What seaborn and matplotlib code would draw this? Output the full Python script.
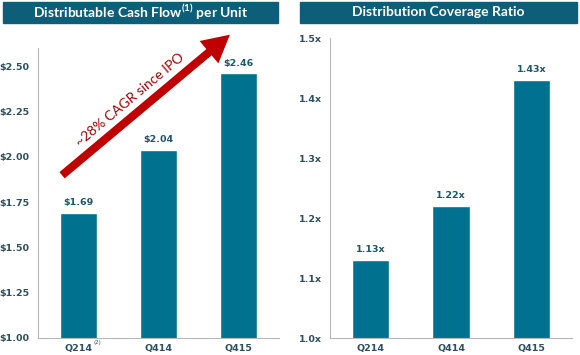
import matplotlib
matplotlib.use("Agg")
import matplotlib.pyplot as plt
import seaborn as sns
import pandas as pd
from matplotlib.patches import Rectangle

# ---- data ----
quarters = ["Q214", "Q414", "Q415"]
dcf_per_unit = [1.69, 2.04, 2.46]
coverage = [1.13, 1.22, 1.43]
dcf_ticks = [1.00, 1.25, 1.50, 1.75, 2.00, 2.25, 2.50]
cov_ticks = [1.0, 1.1, 1.2, 1.3, 1.4, 1.5]
left_title = "Distributable Cash Flow$^{(1)}$ per Unit"
right_title = "Distribution Coverage Ratio"
cagr_text = "~28% CAGR since IPO"
footnote_mark = "(2)"

BAR = "#00718F"
BANNER = "#0D5E79"
TICK = "#2E4F5E"
LBL = "#1F5668"
SPINE = "#B8B8B8"

sns.set_style("white")
plt.rcParams["font.family"] = ["Lato", "DejaVu Sans"]
plt.rcParams["mathtext.fontset"] = "custom"
plt.rcParams["mathtext.rm"] = "Lato:bold"
plt.rcParams["mathtext.bf"] = "Lato:bold"
TFONT = ["DejaVu Sans"]

fig = plt.figure(figsize=(5.8, 3.55), dpi=100)
ax1 = fig.add_axes([38/580, 1-338/355, 241/580, 290/355])
ax2 = fig.add_axes([330/580, 1-338/355, 242/580, 300/355])

df1 = pd.DataFrame({"q": quarters, "v": dcf_per_unit})
df2 = pd.DataFrame({"q": quarters, "v": coverage})
sns.barplot(data=df1, x="q", y="v", ax=ax1, color=BAR, width=0.46, saturation=1)
sns.barplot(data=df2, x="q", y="v", ax=ax2, color=BAR, width=0.46, saturation=1)

def style(ax, ticks, ylim, fmt):
    ax.set_ylim(*ylim)
    ax.set_xlim(-0.5, 2.5)
    ax.set_yticks(ticks)
    ax.set_yticklabels([fmt(t) for t in ticks])
    ax.set_xticks(range(len(quarters)))
    ax.set_xticklabels(quarters)
    ax.set_xlabel("")
    ax.set_ylabel("")
    for s in ["top", "right"]:
        ax.spines[s].set_visible(False)
    for s in ["left", "bottom"]:
        ax.spines[s].set_color(SPINE)
        ax.spines[s].set_linewidth(0.8)
    ax.tick_params(axis="both", length=3, width=0.8, color=SPINE, colors=TICK,
                   labelsize=6.8, direction="out")
    ax.tick_params(axis="x", length=0, pad=4)
    ax.tick_params(axis="y", pad=3)
    for lab in ax.get_xticklabels() + ax.get_yticklabels():
        lab.set_fontweight("bold")
        lab.set_family(TFONT)

style(ax1, dcf_ticks, (1.0, 2.6), lambda t: f"${t:.2f}")
style(ax2, cov_ticks, (1.0, 1.5), lambda t: f"{t:.1f}x")

# footnote mark next to first x tick label (superscript position)
ax1.annotate(footnote_mark, xy=(0, 0), xycoords=("data", "axes fraction"),
             xytext=(11, -3), textcoords="offset points", ha="left", va="center",
             fontsize=4, color=TICK, family=TFONT)

for i, v in enumerate(dcf_per_unit):
    ax1.annotate(f"${v:.2f}", (i, v), xytext=(0, 4), textcoords="offset points",
                 ha="center", va="bottom", fontsize=6.8, fontweight="bold",
                 color=LBL, family=TFONT)
for i, v in enumerate(coverage):
    ax2.annotate(f"{v:.2f}x", (i, v), xytext=(0, 4), textcoords="offset points",
                 ha="center", va="bottom", fontsize=6.8, fontweight="bold",
                 color=LBL, family=TFONT)

# banners
for x0, x1, title in [(3, 278, left_title), (300, 577, right_title)]:
    fig.patches.append(Rectangle((x0/580, 1-23/355), (x1-x0)/580, 21/355,
                                 transform=fig.transFigure, color=BANNER, zorder=0))
    fig.text((x0+x1)/2/580, 1-12.5/355, title, ha="center", va="center",
             color="white", fontsize=10, fontweight="bold")

# CAGR arrow
ax1.annotate("", xy=(0.805, 1.052), xytext=(0.091, 0.555),
             xycoords="axes fraction", textcoords="axes fraction",
             annotation_clip=False,
             arrowprops=dict(arrowstyle="simple,head_length=1.4,head_width=1.5,tail_width=0.42",
                             mutation_scale=14, color="#C00000", lw=0))
ax1.text(0.38, 0.82, cagr_text, transform=ax1.transAxes, rotation=40,
         ha="center", va="center", rotation_mode="anchor",
         color="#A80000", fontsize=10)

fig.savefig("out.png", dpi=100)
